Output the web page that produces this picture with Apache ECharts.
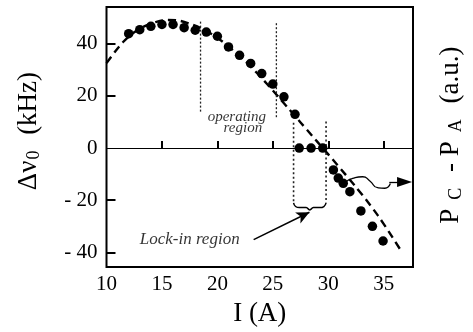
<!DOCTYPE html>
<html><head><meta charset="utf-8">
<script src="https://cdn.jsdelivr.net/npm/echarts@6/dist/echarts.min.js"></script>
<style>html,body{margin:0;padding:0;background:#fff}#c{width:473px;height:332px}</style>
</head><body><div id="c"></div>
<script>
// measured points: current I (A) and frequency shift (kHz)
const dotI  = [12,13,14,15,16,17,18,19,20,21,22,23,24,25,26,27,27.38,28.45,29.5,30.46,30.9,31.35,31.95,32.94,33.98,34.94];
const dotNu = [43.8,45.3,46.6,47.3,47.3,46.1,45.1,44.4,42.8,38.7,35.5,32.4,28.5,24.5,19.6,12.9,0,0,0,-8.4,-11.5,-13.5,-16.7,-24.1,-30,-35.6];
// dashed theoretical curve
const fitI  = [10,10.75,11.5,12.5,13.5,14.5,15.5,16.5,17.5,18.5,19.5,20.5,21.5,22.5,23.5,24.5,25.5,26.5,27.5,28.5,29.5,30.5,31.5,32.5,33.5,34.5,35.5,36.6];
const fitNu = [32.5,36.8,40.6,44.3,46.8,48.3,49.0,48.8,47.6,45.9,43.6,40.6,37.1,33.3,29.0,24.4,19.6,14.7,9.8,4.9,0,-4.9,-9.9,-15.0,-20.3,-26.0,-32.3,-39.6];
// axes
const xTickValues = [10,15,20,25,30,35];
const yTickValues = [-40,-20,0,20,40];
const xRange = [10, 37.64];
const yRange = [-45.6, 54.0];
// annotations (data coordinates)
const opLeftI = [18.48,18.48],   opLeftNu = [48.4,13.4];
const opRightI = [25.32,25.32],  opRightNu = [47.8,11.5];
const lockLeftI = [26.87,26.87], lockLeftNu = [9.7,-21.0];
const lockRightI = [29.8,29.8],  lockRightNu = [10.2,-21.0];
const braceI  = [26.87,27.05,27.4,28.0,28.33,28.66,29.25,29.6,29.8];
const braceNu = [-21.0,-22.4,-22.8,-22.8,-23.7,-22.8,-22.8,-22.4,-21.0];
const lockArrowFrom = [23.27,-35.1], lockArrowTo = [28.3,-24.6];
const waveI  = [31.47,32.2,33.1,33.75,34.45,35.1,35.6];
const waveNu = [-13.4,-11.6,-11.0,-12.6,-15.2,-15.4,-13.6];
const waveArrowFrom = [35.5,-13.0], waveArrowTo = [36.88,-13.0];
const labelOp1 = [21.75,12.0], labelOp2 = [22.3,7.5], labelLock = [17.5,-35.0];

const F = 'Liberation Serif';
const zip = (a,b) => a.map((v,i)=>[v,b[i]]);
const thin = (xs,ys,extra) => Object.assign({type:'line', data:zip(xs,ys), symbol:'none', silent:true,
  lineStyle:{color:'#222', width:1.3, type:[2,2]}}, extra||{});

const chart = echarts.init(document.getElementById('c'), null, {renderer:'canvas'});
chart.setOption({
  animation:false,
  grid:{left:106.5, right:58, top:7, bottom:64.3, show:true, borderColor:'#000', borderWidth:2, backgroundColor:'transparent'},
  xAxis:{type:'value', min:xRange[0], max:xRange[1],
    name:'I (A)', nameLocation:'middle', nameGap:25,
    nameTextStyle:{fontFamily:F, fontSize:27, color:'#000'},
    axisLine:{show:false}, splitLine:{show:false},
    axisTick:{show:true, inside:true, length:7, lineStyle:{color:'#000', width:2}, customValues:xTickValues.slice(1)},
    axisLabel:{customValues:xTickValues, fontFamily:F, fontSize:21, color:'#000', margin:7}},
  yAxis:[{type:'value', min:yRange[0], max:yRange[1],
    name:'Δν{s|0} (kHz)', nameLocation:'middle', nameGap:63, nameRotate:90,
    nameTextStyle:{fontFamily:F, fontSize:27, color:'#000', padding:[0,0,0,12],
      rich:{s:{fontFamily:F, fontSize:18, color:'#000', verticalAlign:'bottom', padding:[11,9,0,1]}}},
    axisLine:{show:false}, splitLine:{show:false},
    axisTick:{show:true, inside:true, length:9, lineStyle:{color:'#000', width:2}, customValues:[-40,-20,20,40]},
    axisLabel:{customValues:yTickValues, fontFamily:F, fontSize:21, color:'#000', margin:9,
      formatter:v => v<0 ? '- ' + Math.abs(v) : String(v)}},
   {type:'value', position:'right', min:yRange[0], max:yRange[1],
    name:'P{s|C} - P{s|A} (a.u.)', nameLocation:'middle', nameGap:23, nameRotate:90,
    nameTextStyle:{fontFamily:F, fontSize:27, color:'#000', padding:[0,0,0,4],
      rich:{s:{fontFamily:F, fontSize:18, color:'#000', verticalAlign:'bottom', padding:[11,9,0,9]}}},
    axisLine:{show:false}, axisTick:{show:false}, axisLabel:{show:false}, splitLine:{show:false}}],
  series:[
    {type:'line', data:zip(fitI,fitNu), symbol:'none', smooth:0.3, silent:true,
      lineStyle:{color:'#000', width:2.4, type:[8,5]}, z:3},
    {type:'scatter', data:zip(dotI,dotNu), symbol:'circle', symbolSize:9.5,
      itemStyle:{color:'#000', opacity:1}, z:4,
      markLine:{silent:true, symbol:'none', label:{show:false},
        lineStyle:{color:'#000', width:1, type:'solid'}, data:[{yAxis:0}]}},
    thin(opLeftI,opLeftNu),
    thin(opRightI,opRightNu),
    thin(lockLeftI,lockLeftNu,{lineStyle:{color:'#222', width:1.6, type:[2,2.5]}}),
    thin(lockRightI,lockRightNu,{lineStyle:{color:'#222', width:1.6, type:[2,2.5]}}),
    {type:'line', data:zip(braceI,braceNu), symbol:'none', smooth:0.5, silent:true,
      lineStyle:{color:'#000', width:1.5}},
    {type:'line', data:zip(waveI,waveNu), symbol:'none', smooth:0.6, silent:true,
      lineStyle:{color:'#000', width:1.3},
      markLine:{silent:true, symbol:['none','path://M5,0 L10,14 L0,14 Z'], symbolSize:[10,15], label:{show:false},
        lineStyle:{color:'#000', width:1.3, type:'solid'},
        data:[[{coord:waveArrowFrom},{coord:waveArrowTo}]]}},
    {type:'line', data:[lockArrowFrom, lockArrowTo], symbol:'none', silent:true, lineStyle:{width:0, opacity:0},
      markLine:{silent:true, symbol:['none','arrow'], symbolSize:[9,13], label:{show:false},
        lineStyle:{color:'#000', width:1.5, type:'solid'},
        data:[[{coord:lockArrowFrom},{coord:lockArrowTo}]]}},
    {type:'scatter', symbolSize:0, silent:true,
      label:{show:true, position:'inside', fontFamily:F, fontStyle:'italic', color:'#000',
        formatter:p => p.data.t},
      data:[
        {value:labelOp1, t:'operating', label:{fontSize:15}},
        {value:labelOp2, t:'region', label:{fontSize:15}},
        {value:labelLock, t:'Lock-in region', label:{fontSize:17}}
      ]}
  ]
});
</script></body></html>
